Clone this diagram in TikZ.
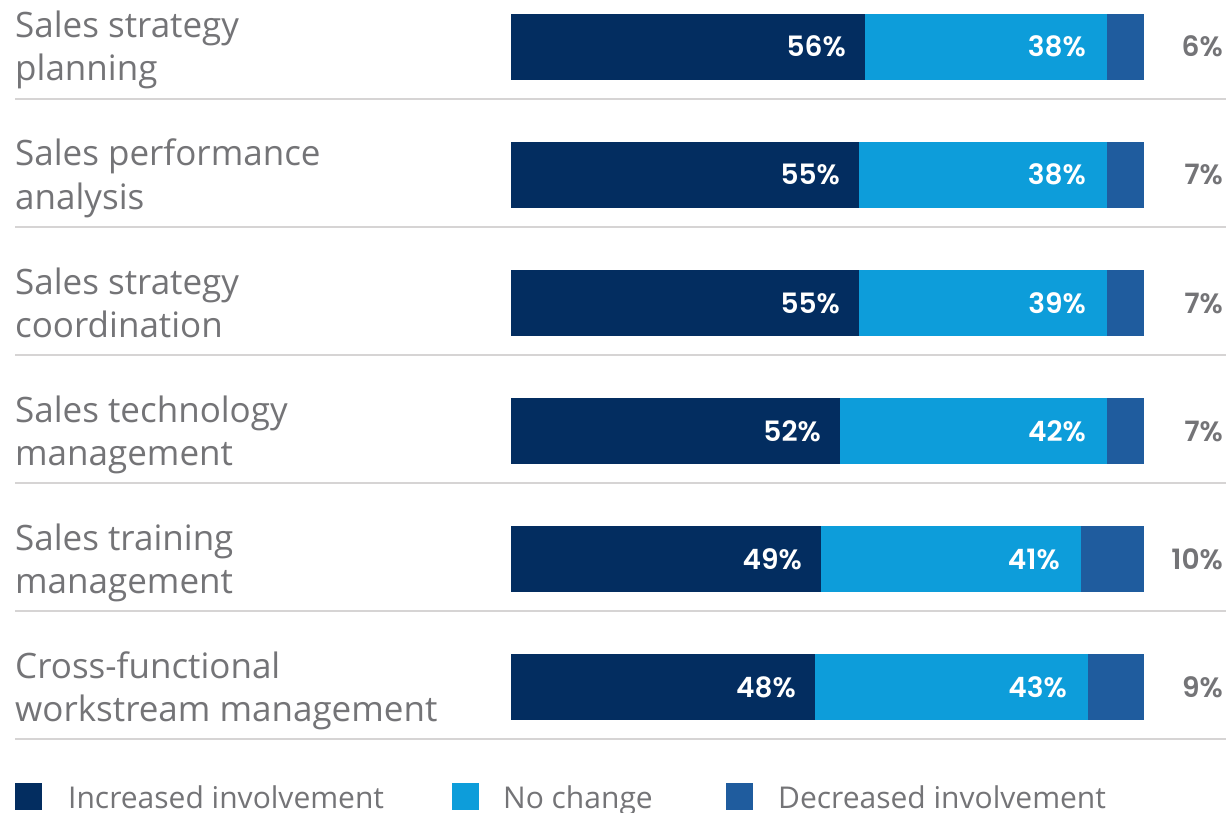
\documentclass[tikz,border=0pt]{standalone}
\usepackage{fontspec}
\setmainfont{Open Sans}
\newfontfamily\numfont{Poppins SemiBold}
\definecolor{incr}{HTML}{032D60}
\definecolor{noch}{HTML}{0D9DDA}
\definecolor{decr}{HTML}{1F5C9E}
\definecolor{txtgrey}{HTML}{747477}
\definecolor{sepgrey}{HTML}{D6D4D4}
\tikzset{
  lbl/.style={anchor=base west, inner sep=0pt, text=txtgrey, font=\fontsize{35}{40}\selectfont},
  inval/.style={anchor=base east, inner sep=0pt, text=white, font=\numfont\fontsize{28}{30}\selectfont},
  outval/.style={anchor=base east, inner sep=0pt, text=txtgrey, font=\numfont\fontsize{28}{30}\selectfont},
  sep/.style={draw=sepgrey, line width=1.5pt},
  seg/.style={inner sep=0pt, outer sep=0pt, draw=none, anchor=north west, minimum height=66pt},
  legtxt/.style={anchor=base west, inner sep=0pt, text=txtgrey, font=\fontsize{30}{34}\selectfont},
  legsq/.style={anchor=north west, inner sep=0pt, minimum width=27pt, minimum height=27pt},
}
\begin{document}
\begin{tikzpicture}[x=1pt,y=-1pt]
\useasboundingbox[fill=white] (0,0) rectangle (1228,813);
\foreach \i/\la/\lb/\a/\b/\pa/\pb/\pc in {
  0/Sales strategy/planning/865/1107/56/38/6,
  1/Sales performance/analysis/859/1107/55/38/7,
  2/Sales strategy/coordination/859/1107/55/39/7,
  3/Sales technology/management/840/1107/52/42/7,
  4/Sales training/management/821/1081/49/41/10,
  5/Cross-functional/workstream management/815/1088/48/43/9}{
  \pgfmathsetmacro{\top}{14+128*\i}
  \pgfmathsetmacro{\wa}{\a-511}
  \pgfmathsetmacro{\wb}{\b-\a}
  \pgfmathsetmacro{\wc}{1144-\b}
  \node[seg, fill=incr, minimum width=\wa pt] (inc\i) at (511,\top) {};
  \node[seg, fill=noch, minimum width=\wb pt] (noc\i) at (\a,\top) {};
  \node[seg, fill=decr, minimum width=\wc pt] (dec\i) at (\b,\top) {};
  \node[inval] (vinc\i) at (\a-19,\top+43) {\pa\%};
  \node[inval] (vnoc\i) at (\b-21,\top+43) {\pb\%};
  \node[outval] (vdec\i) at (1223,\top+43) {\pc\%};
  \node[lbl] (la\i) at (15,\top+24) {\la};
  \node[lbl] (lb\i) at (15,\top+67) {\lb};
  \coordinate (sl\i) at (15,\top+85);
  \coordinate (sr\i) at (1226,\top+85);
  \draw[sep] (sl\i) -- (sr\i);
}
\node[legsq, fill=incr] (sq1) at (15,783) {};
\node[legtxt] (lt1) at (68,808) {Increased involvement};
\node[legsq, fill=noch] (sq2) at (452,783) {};
\node[legtxt] (lt2) at (503,808) {No change};
\node[legsq, fill=decr] (sq3) at (726,783) {};
\node[legtxt] (lt3) at (778,808) {Decreased involvement};
\end{tikzpicture}
\end{document}
